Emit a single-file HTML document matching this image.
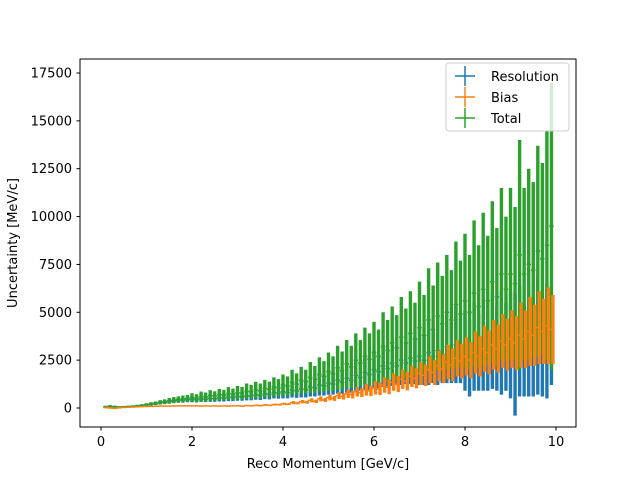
<!DOCTYPE html>
<html><head><meta charset="utf-8"><style>
body{margin:0;background:#fff}
svg{font-family:"DejaVu Sans","Liberation Sans",sans-serif}
</style></head><body>
<svg id="chart" width="640" height="480">
<rect width="640" height="480" fill="#fff"/>
<g id="marks"></g>
<rect x="80" y="59" width="496" height="368" fill="none" stroke="#000" stroke-width="1"/>
<g id="ticks"></g>
<text x="328" y="468" text-anchor="middle" font-size="13">Reco Momentum [GeV/c]</text>
<text transform="translate(17,243) rotate(-90)" text-anchor="middle" font-size="13">Uncertainty [MeV/c]</text>
<g>
<rect x="446" y="63" width="123" height="68" rx="3" fill="#fff" fill-opacity="0.8" stroke="#ccc"/>
<g>
<line x1="455" y1="76" x2="475" y2="76" stroke="#1f77b4" stroke-width="1.5"/><line x1="465" y1="66" x2="465" y2="86" stroke="#1f77b4" stroke-width="1.5"/>
<text x="491" y="81" font-size="13">Resolution</text></g>
<g>
<line x1="455" y1="97" x2="475" y2="97" stroke="#ff7f0e" stroke-width="1.5"/><line x1="465" y1="87" x2="465" y2="107" stroke="#ff7f0e" stroke-width="1.5"/>
<text x="491" y="102" font-size="13">Bias</text></g>
<g>
<line x1="455" y1="118" x2="475" y2="118" stroke="#2ca02c" stroke-width="1.5"/><line x1="465" y1="108" x2="465" y2="128" stroke="#2ca02c" stroke-width="1.5"/>
<text x="491" y="123" font-size="13">Total</text></g>
</g>
</svg>
<script>
const xTicks=[0,2,4,6,8,10];
const yTicks=[0,2500,5000,7500,10000,12500,15000,17500];
const greenCenter=[60,80,70,50,60,70,90,110,140,180,220,250,300,330,380,420,450,480,500,550,520,600,580,650,620,700,680,760,720,800,780,880,850,950,900,1020,980,1100,1060,1200,1150,1350,1250,1450,1380,1600,1500,1750,1650,1900,1800,2100,1950,2300,2150,2500,2350,2700,2550,2900,2700,3200,3000,3400,3150,3700,3400,3900,3600,4200,3800,4600,4100,4800,4400,5000,4600,5400,4900,5600,5000,6000,5300,6200,5600,6600,5800,7000,6200,7000,6500,8000,7000,7500,7200,8200,7800,8500,9500];
const greenErr=[60,70,50,40,40,50,50,60,60,70,80,90,110,120,140,150,160,170,180,220,200,260,230,280,250,300,270,330,290,350,320,400,360,420,380,450,400,500,450,550,500,650,560,700,620,800,700,900,800,1000,900,1150,1000,1250,1100,1400,1200,1500,1350,1600,1400,1800,1600,1900,1700,2100,1800,2200,1900,2400,2100,2700,2300,2800,2500,3000,2600,3300,2800,3500,3000,3800,3200,4000,3400,4200,3600,4500,3800,4500,4000,6000,4500,5000,4600,5500,5000,6000,7500];
const blueCenter=[60,80,70,50,60,70,90,100,130,170,200,230,270,300,330,360,390,410,430,450,430,480,460,500,480,530,510,560,540,600,580,640,620,690,660,740,710,800,770,850,800,950,880,1000,950,1100,1050,1200,1150,1300,1250,1450,1350,1550,1450,1700,1600,1850,1750,2000,1900,2200,2050,2350,2200,2500,2350,2600,2450,2700,2500,2900,2700,3000,2800,3200,2900,3300,3000,3000,2600,3200,2900,3300,3000,3500,3100,3400,3200,3300,2800,3500,3000,3600,3200,3800,3300,3500,3000];
const blueErr=[50,60,40,30,30,40,40,50,50,60,70,80,90,100,110,110,120,130,130,150,140,170,150,180,160,190,170,200,180,220,200,240,220,260,240,280,260,300,280,350,300,400,350,450,400,500,450,550,500,600,550,700,600,750,650,800,700,900,800,1000,900,1100,1000,1200,1000,1300,1100,1350,1200,1500,1300,1700,1400,1800,1500,1900,1600,2000,1700,2100,2000,2300,2000,2400,2100,2500,2200,2700,2300,2800,3200,2900,2400,3000,2600,3100,2700,3000,1800];
const orangeCenter=[20,0,-20,10,30,40,50,60,70,80,90,90,100,100,100,110,110,110,110,110,110,100,110,100,110,100,110,100,110,120,100,130,110,140,120,160,140,180,170,220,200,280,250,330,300,400,350,480,420,550,500,650,600,750,700,850,800,950,900,1050,1000,1200,1100,1350,1250,1500,1400,1650,1550,1800,1700,2000,1850,2200,2050,2400,2250,2600,2450,2700,2500,2900,2700,3100,2900,3300,3100,3500,3300,3600,3400,3800,3600,4000,3800,4200,4000,4300,4100];
const orangeErr=[40,40,30,20,20,20,20,20,20,20,20,20,20,20,20,20,20,20,20,20,20,20,20,20,20,20,20,20,20,30,30,30,30,40,30,40,40,50,50,60,50,80,60,90,80,110,90,130,110,150,130,180,160,220,200,250,230,300,280,350,320,400,380,450,420,500,480,550,520,600,550,700,650,800,750,900,850,950,900,1000,950,1100,1050,1200,1150,1300,1250,1400,1350,1500,1400,1700,1500,1800,1600,1900,1700,2000,1800];
const momentum=greenCenter.map((_,i)=>(i+1)/10);
const NS='http://www.w3.org/2000/svg';
const xs=v=>101+v*45.5;
const ys=v=>408-v*(335/17500);
const marks=document.getElementById('marks');
function series(c,e,color,name,dx){
  const g=document.createElementNS(NS,'g');
  
  
  c.forEach((v,i)=>{
    const x=xs(momentum[i])+dx;
    const l=document.createElementNS(NS,'line');
    
    
    l.setAttribute('x1',x);l.setAttribute('x2',x);
    l.setAttribute('y1',ys(v-e[i]));l.setAttribute('y2',ys(v+e[i]));
    l.setAttribute('stroke',color);l.setAttribute('stroke-width','3.4');
    g.appendChild(l);
    const h=document.createElementNS(NS,'line');
    
    
    h.setAttribute('x1',xs(momentum[i]-0.05));h.setAttribute('x2',xs(momentum[i]+0.05));
    h.setAttribute('y1',ys(v));h.setAttribute('y2',ys(v));
    h.setAttribute('stroke',color);h.setAttribute('stroke-width','1.5');
    g.appendChild(h);
  });
  marks.appendChild(g);
}
series(blueCenter,blueErr,'#1f77b4','resolution-series',0);
series(greenCenter,greenErr,'#2ca02c','total-series',0);
series(orangeCenter,orangeErr,'#ff7f0e','bias-series',1.5);
const tk=document.getElementById('ticks');
xTicks.forEach(t=>{
  const x=xs(t);
  const l=document.createElementNS(NS,'line');
  
  
  l.setAttribute('x1',x);l.setAttribute('x2',x);l.setAttribute('y1',427);l.setAttribute('y2',430.5);l.setAttribute('stroke','#000');
  tk.appendChild(l);
  const s=document.createElementNS(NS,'text');
  
  
  s.setAttribute('x',x);s.setAttribute('y',446);s.setAttribute('text-anchor','middle');s.setAttribute('font-size','13');
  s.textContent=t;tk.appendChild(s);
});
yTicks.forEach(t=>{
  const y=ys(t);
  const l=document.createElementNS(NS,'line');
  
  
  l.setAttribute('x1',76.5);l.setAttribute('x2',80);l.setAttribute('y1',y);l.setAttribute('y2',y);l.setAttribute('stroke','#000');
  tk.appendChild(l);
  const s=document.createElementNS(NS,'text');
  
  
  s.setAttribute('x',72);s.setAttribute('y',y+4.5);s.setAttribute('text-anchor','end');s.setAttribute('font-size','13');
  s.textContent=t;tk.appendChild(s);
});
</script>
</body></html>
